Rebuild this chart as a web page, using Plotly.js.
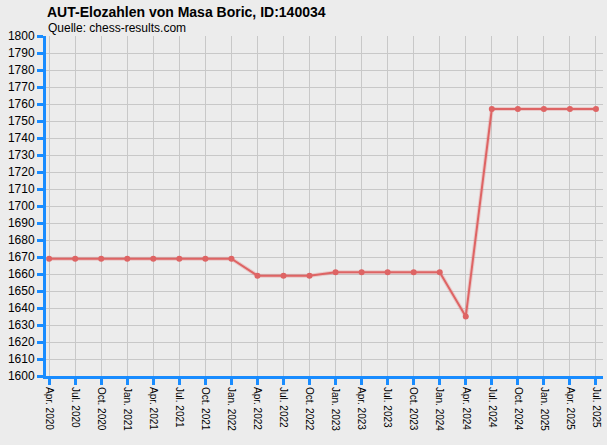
<!DOCTYPE html>
<html>
<head>
<meta charset="utf-8">
<script src="https://cdn.plot.ly/plotly-3.0.1.min.js"></script>
<style>
  html, body { margin: 0; padding: 0; background: #ececec; }
  #chart { width: 607px; height: 445px; }
</style>
</head>
<body>
<div id="chart"></div>
<script>
var dates = ['Apr. 2020', 'Jul. 2020', 'Oct. 2020', 'Jan. 2021', 'Apr. 2021', 'Jul. 2021',
  'Oct. 2021', 'Jan. 2022', 'Apr. 2022', 'Jul. 2022', 'Oct. 2022', 'Jan. 2023',
  'Apr. 2023', 'Jul. 2023', 'Oct. 2023', 'Jan. 2024', 'Apr. 2024', 'Jul. 2024',
  'Oct. 2024', 'Jan. 2025', 'Apr. 2025', 'Jul. 2025'];

var elo = [1669, 1669, 1669, 1669, 1669, 1669, 1669, 1669, 1659, 1659, 1659, 1661,
  1661, 1661, 1661, 1661, 1635, 1757, 1757, 1757, 1757, 1757];

var yTicks = [];
for (var v = 1600; v <= 1800; v += 10) yTicks.push(v);

var lineColor = 'rgb(222,100,100)';
var axisBlue = 'rgb(25,140,255)';

var data = [{
  x: dates,
  y: elo,
  type: 'scatter',
  mode: 'lines',
  line: {color: 'rgba(222,100,100,0.25)', width: 4},
  hoverinfo: 'skip',
  showlegend: false
}, {
  x: dates,
  y: elo,
  type: 'scatter',
  mode: 'lines+markers',
  line: {color: lineColor, width: 2},
  marker: {color: lineColor, size: 6},
  showlegend: false
}];

var layout = {
  width: 607,
  height: 445,
  paper_bgcolor: '#ececec',
  plot_bgcolor: '#ececec',
  margin: {t: 36, b: 69, l: 46, r: 4},
  font: {family: 'Liberation Sans, Arial, sans-serif', color: '#000'},
  title: {
    text: '<b>AUT-Elozahlen von Masa Boric, ID:140034</b>',
    font: {size: 14},
    x: 47 / 607, xref: 'container', xanchor: 'left',
    y: 1 - 12 / 445, yref: 'container', yanchor: 'middle'
  },
  annotations: [{
    text: 'Quelle: chess-results.com',
    xref: 'paper', yref: 'paper',
    x: 0, y: 1, xanchor: 'left', yanchor: 'bottom',
    yshift: -1, showarrow: false,
    font: {size: 12}
  }],
  xaxis: {
    type: 'category',
    range: [-0.12, 21.27],
    tickangle: 90,
    tickfont: {size: 10},
    showgrid: true,
    gridcolor: '#c8c8c8',
    gridwidth: 1,
    showline: true,
    linecolor: axisBlue,
    linewidth: 3,
    ticks: 'outside',
    ticklen: 6,
    tickwidth: 3,
    tickcolor: axisBlue,
    zeroline: false,
    fixedrange: true
  },
  yaxis: {
    range: [1600, 1800],
    tickvals: yTicks,
    tickfont: {size: 12},
    showgrid: true,
    gridcolor: '#c8c8c8',
    gridwidth: 1,
    showline: true,
    linecolor: axisBlue,
    linewidth: 3,
    ticks: 'outside',
    ticklen: 6,
    tickwidth: 3,
    tickcolor: axisBlue,
    zeroline: false,
    fixedrange: true
  }
};

Plotly.newPlot('chart', data, layout, {displayModeBar: false, staticPlot: true});
</script>
</body>
</html>
